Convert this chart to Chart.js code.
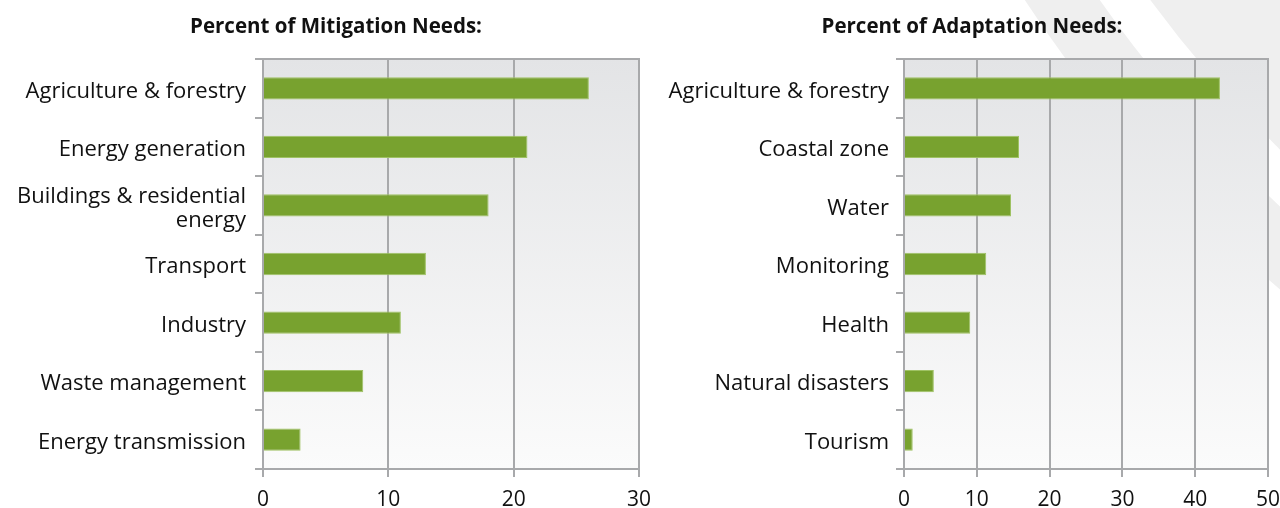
<!DOCTYPE html>
<html lang="en">
<head>
<meta charset="UTF-8">
<title>Percent of Mitigation and Adaptation Needs</title>
<script src="https://cdn.jsdelivr.net/npm/chart.js"></script>
<style>
    body { margin: 0; background: #ffffff; }
    .wrap { position: relative; width: 1280px; height: 508px; overflow: hidden; }
    #mitigacao { position: absolute; left: 0; top: 0; }
    #adaptacao { position: absolute; left: 640px; top: 0; }
</style>
</head>
<body>
<div class="wrap">
    <canvas id="mitigacao" width="680" height="508"></canvas>
    <canvas id="adaptacao" width="640" height="508"></canvas>
</div>
<script>
    // dados
    const mitigationLabels = ['Agriculture & forestry', 'Energy generation', ['Buildings & residential', 'energy'],
        'Transport', 'Industry', 'Waste management', 'Energy transmission'];
    const mitigationValues = [26, 21.1, 18, 13, 11, 8, 3];
    const mitigationTicks = [0, 10, 20, 30];

    const adaptationLabels = ['Agriculture & forestry', 'Coastal zone', 'Water', 'Monitoring',
        'Health', 'Natural disasters', 'Tourism'];
    const adaptationValues = [43.4, 15.8, 14.7, 11.3, 9.1, 4.1, 1.2];
    const adaptationTicks = [0, 10, 20, 30, 40, 50];

    const CINZA = '#a8a9ab';
    const VERDE = '#78a22f';
    const FONTE = "'Open Sans', sans-serif";

    // fundo degrade da area do grafico + linha de cima
    const fundoPlot = {
        id: 'fundoPlot',
        beforeDraw(chart) {
            const { ctx, chartArea: a } = chart;
            const g = ctx.createLinearGradient(0, a.top, 0, a.bottom);
            g.addColorStop(0, '#e3e4e6');
            g.addColorStop(1, '#fbfbfb');
            ctx.save();
            ctx.fillStyle = g;
            ctx.fillRect(a.left, a.top, a.right - a.left, a.bottom - a.top);
            ctx.restore();
        },
        afterDraw(chart) {
            const { ctx, chartArea: a } = chart;
            ctx.save();
            ctx.strokeStyle = CINZA;
            ctx.lineWidth = 2;
            ctx.beginPath();
            ctx.moveTo(a.left, a.top);
            ctx.lineTo(a.right + 1, a.top);
            ctx.stroke();
            // titulo (centro deslocado em relacao ao canvas)
            const t = chart.options.plugins.fundoPlot;
            ctx.fillStyle = '#111111';
            ctx.font = "bold 20.5px 'Open Sans', sans-serif";
            ctx.textAlign = 'center';
            ctx.textBaseline = 'middle';
            ctx.fillText(t.titulo, t.x, 27);
            ctx.restore();
        }
    };

    // arcos decorativos do fundo (canto direito)
    const arcos = {
        id: 'arcos',
        beforeDraw(chart) {
            const ctx = chart.ctx;
            ctx.save();
            ctx.strokeStyle = '#efefef';
            ctx.lineWidth = 174;
            ctx.beginPath();
            ctx.arc(1535, -757, 1187, 0, Math.PI * 2);
            ctx.stroke();
            ctx.lineWidth = 62;
            ctx.beginPath();
            ctx.arc(1535, -757, 1346, 0, Math.PI * 2);
            ctx.stroke();
            ctx.restore();
        }
    };

    function criarGrafico(id, titulo, labels, valores, ticks, cfg) {
        return new Chart(document.getElementById(id), {
            type: 'bar',
            data: {
                labels: labels,
                datasets: [{
                    data: valores,
                    backgroundColor: VERDE,
                    borderColor: '#9fc264',
                    borderWidth: 1,
                    barPercentage: 0.38,
                    categoryPercentage: 1
                }]
            },
            options: {
                indexAxis: 'y',
                responsive: false,
                animation: false,
                layout: { padding: { left: 0, right: cfg.padRight, top: 59, bottom: 0 } },
                plugins: {
                    legend: { display: false },
                    tooltip: { enabled: false },
                    title: { display: false },
                    fundoPlot: { titulo: titulo, x: cfg.tituloX }
                },
                scales: {
                    x: {
                        min: 0,
                        max: ticks[ticks.length - 1],
                        afterBuildTicks(s) { s.ticks = ticks.map(v => ({ value: v })); },
                        afterFit(s) { s.height = 39; s.paddingLeft = 0; s.paddingRight = 0; },
                        grid: { color: CINZA, lineWidth: 2, tickLength: 8 },
                        border: { color: CINZA, width: 2 },
                        ticks: { color: '#111111', font: { family: FONTE, size: 21 }, padding: 10 }
                    },
                    y: {
                        afterFit(s) { s.width = cfg.yWidth; s.paddingTop = 0; s.paddingBottom = 0; },
                        grid: { drawOnChartArea: false, color: CINZA, lineWidth: 2, tickLength: 8, offset: true },
                        border: { color: CINZA, width: 2 },
                        ticks: {
                            color: '#111111',
                            font: { family: FONTE, size: 22, lineHeight: 1.09 },
                            padding: cfg.labelPad,
                            labelOffset: 3
                        }
                    }
                }
            },
            plugins: cfg.extra.concat([fundoPlot])
        });
    }

    criarGrafico('mitigacao', 'Percent of Mitigation Needs:', mitigationLabels, mitigationValues, mitigationTicks,
        { padRight: 41, yWidth: 263, labelPad: 9, tituloX: 336, extra: [] });
    criarGrafico('adaptacao', 'Percent of Adaptation Needs:', adaptationLabels, adaptationValues, adaptationTicks,
        { padRight: 12, yWidth: 264, labelPad: 7, tituloX: 332, extra: [arcos] });
</script>
</body>
</html>
